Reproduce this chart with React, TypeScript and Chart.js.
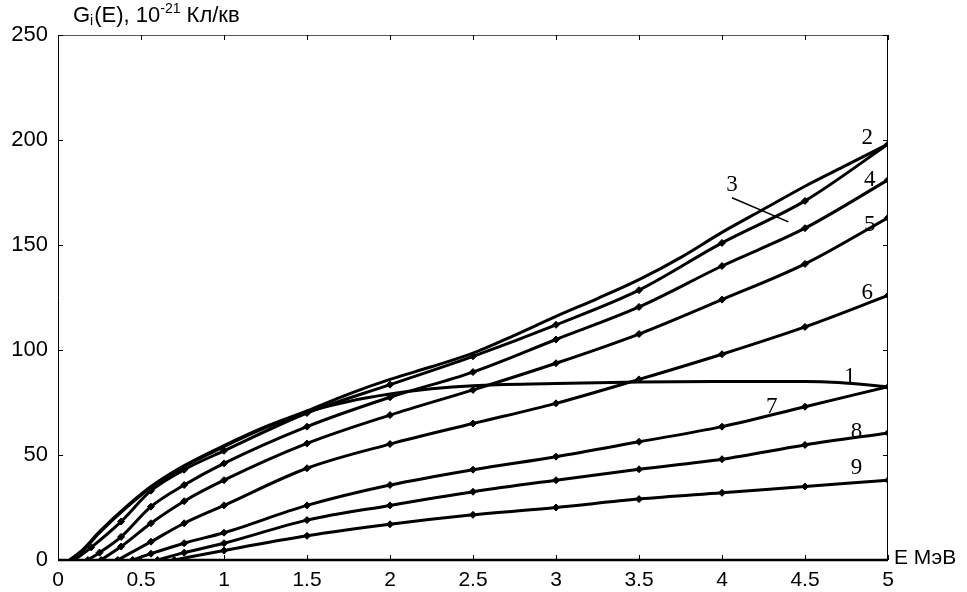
import React, { useEffect, useRef } from 'react';
import { Chart, registerables } from 'chart.js';

Chart.register(...registerables);

// ---- data (E in MeV, G in 10^-21 Кл/кв) ----
const E1 = [0.07, 0.15, 0.25, 0.42, 0.56, 0.75, 1, 1.25, 1.5, 1.75, 2, 2.25, 2.5, 3, 3.5, 4, 4.5, 4.7, 5];
const G1 = [0, 4.5, 13, 25.5, 34.5, 44, 54, 63, 70.5, 75.5, 79, 81.5, 83, 84, 84.8, 85, 85, 84.5, 82.5];

const E2 = [0.07, 0.15, 0.25, 0.42, 0.56, 0.75, 1, 1.25, 1.5, 1.75, 2, 2.25, 2.5, 2.75, 3, 3.25, 3.5, 3.75, 4, 4.25, 4.5, 4.75, 5];
const G2 = [0, 5, 13.5, 26, 35, 44.5, 54.5, 63.5, 71, 79, 86, 92, 98.5, 107, 116, 124.5, 133.5, 144, 156, 167, 178, 188, 198];

const E3 = [0.1, 0.2, 0.38, 0.56, 0.76, 1, 1.5, 2, 2.5, 3, 3.5, 4, 4.5, 5];
const G3 = [0, 6, 18.3, 33, 43, 52, 70, 83.5, 97, 112, 128.5, 151, 171, 198];

const E4 = [0.18, 0.25, 0.38, 0.56, 0.76, 1, 1.5, 2, 2.5, 3, 3.5, 4, 4.5, 5];
const G4 = [0, 3.5, 11, 25.4, 35.7, 46, 63.5, 77.5, 89.5, 105, 120.5, 140, 158, 181];

const E5 = [0.26, 0.38, 0.56, 0.76, 1, 1.5, 2, 2.5, 3, 3.5, 4, 4.5, 5];
const G5 = [0, 6.4, 17.5, 28, 38, 55.5, 69, 81, 93.7, 107.6, 124, 141, 163];

const E6 = [0.36, 0.56, 0.76, 1, 1.5, 2, 2.5, 3, 3.5, 4, 4.5, 5];
const G6 = [0, 8.7, 17.5, 26, 43.7, 55.2, 65, 74.6, 86, 98, 111, 126];

const E7 = [0.45, 0.56, 0.76, 1, 1.5, 2, 2.5, 3, 3.5, 4, 4.5, 5];
const G7 = [0, 3, 8, 13, 26, 35.7, 43, 49.2, 56.3, 63.5, 73, 82.5];

const E8 = [0.6, 0.76, 1, 1.5, 2, 2.5, 3, 3.5, 4, 4.5, 5];
const G8 = [0, 3.5, 8, 19, 26, 32.5, 38, 43.2, 48, 54.8, 60.5];

const E9 = [0.7, 1, 1.5, 2, 2.5, 3, 3.5, 4, 4.5, 5];
const G9 = [0, 4.5, 11.5, 17, 21.5, 25, 29, 32, 35, 38];

const CURVES = [
  { name: '1', e: E1, g: G1, markers: false },
  { name: '2', e: E2, g: G2, markers: false },
  { name: '3', e: E3, g: G3, markers: true },
  { name: '4', e: E4, g: G4, markers: true },
  { name: '5', e: E5, g: G5, markers: true },
  { name: '6', e: E6, g: G6, markers: true },
  { name: '7', e: E7, g: G7, markers: true },
  { name: '8', e: E8, g: G8, markers: true },
  { name: '9', e: E9, g: G9, markers: true },
];

const X_TICKS = [0, 0.5, 1, 1.5, 2, 2.5, 3, 3.5, 4, 4.5, 5];
const Y_TICKS = [0, 50, 100, 150, 200, 250];

// curve number labels placed in data coordinates
const LABEL_TEXT = ['1', '2', '3', '4', '5', '6', '7', '8', '9'];
const LABEL_E = [4.77, 4.875, 4.06, 4.89, 4.89, 4.875, 4.3, 4.81, 4.81];
const LABEL_G = [87, 201, 178.6, 181, 159.5, 127, 73, 61, 44];
const POINTER3_E = [4.06, 4.4];
const POINTER3_G = [172.5, 161];

const X_TITLE = 'E МэВ';
const Y_TITLE_PARTS = ['G', 'i', '(E), 10', '-21', ' Кл/кв'];

const SANS = "'Liberation Sans', Arial, sans-serif";
const SERIF = "'Liberation Serif', 'Times New Roman', serif";

const decorPlugin = {
  id: 'decor',
  afterDraw(chart: any) {
    const ctx = chart.ctx;
    const xs = chart.scales.x;
    const ys = chart.scales.y;
    const ca = chart.chartArea;
    ctx.save();
    // frame
    ctx.strokeStyle = '#000';
    ctx.lineWidth = 1;
    ctx.beginPath();
    ctx.moveTo(ca.left + 0.5, ca.top);
    ctx.lineTo(ca.left + 0.5, ca.bottom);
    ctx.moveTo(ca.right - 0.5, ca.top);
    ctx.lineTo(ca.right - 0.5, ca.bottom);
    ctx.stroke();
    ctx.strokeStyle = '#555';
    ctx.beginPath();
    ctx.moveTo(ca.left, ca.top + 0.5);
    ctx.lineTo(ca.right, ca.top + 0.5);
    ctx.stroke();
    ctx.strokeStyle = '#000';
    ctx.lineWidth = 2.5;
    ctx.beginPath();
    ctx.moveTo(ca.left, ca.bottom);
    ctx.lineTo(ca.right, ca.bottom);
    ctx.stroke();
    // inner ticks
    ctx.lineWidth = 1;
    ctx.beginPath();
    X_TICKS.forEach((v) => {
      const px = Math.round(xs.getPixelForValue(v)) + 0.5;
      ctx.moveTo(px, ca.bottom);
      ctx.lineTo(px, ca.bottom - 5);
      ctx.moveTo(px, ca.top);
      ctx.lineTo(px, ca.top + 5);
    });
    Y_TICKS.forEach((v) => {
      const py = Math.round(ys.getPixelForValue(v)) + 0.5;
      ctx.moveTo(ca.left, py);
      ctx.lineTo(ca.left + 5, py);
      ctx.moveTo(ca.right, py);
      ctx.lineTo(ca.right - 5, py);
    });
    ctx.stroke();

    // y title with sub/superscript
    ctx.fillStyle = '#000';
    ctx.textBaseline = 'alphabetic';
    ctx.textAlign = 'left';
    let x = ca.left + 15;
    const base = 22;
    const big = `22px ${SANS}`;
    const small = `14px ${SANS}`;
    ctx.font = big;
    ctx.fillText(Y_TITLE_PARTS[0], x, base);
    x += ctx.measureText(Y_TITLE_PARTS[0]).width;
    ctx.font = small;
    ctx.fillText(Y_TITLE_PARTS[1], x, base + 3);
    x += ctx.measureText(Y_TITLE_PARTS[1]).width + 1;
    ctx.font = big;
    ctx.fillText(Y_TITLE_PARTS[2], x, base);
    x += ctx.measureText(Y_TITLE_PARTS[2]).width;
    ctx.font = small;
    ctx.fillText(Y_TITLE_PARTS[3], x, base - 9);
    x += ctx.measureText(Y_TITLE_PARTS[3]).width;
    ctx.font = big;
    ctx.fillText(Y_TITLE_PARTS[4], x, base);

    // x title
    ctx.font = `21px ${SANS}`;
    ctx.textBaseline = 'middle';
    ctx.fillText(X_TITLE, ca.right + 6, ca.bottom - 2);

    // curve labels
    ctx.font = `23px ${SERIF}`;
    ctx.textAlign = 'center';
    ctx.textBaseline = 'middle';
    LABEL_TEXT.forEach((t, i) => {
      ctx.fillText(t, xs.getPixelForValue(LABEL_E[i]), ys.getPixelForValue(LABEL_G[i]));
    });
    // pointer for 3
    ctx.lineWidth = 1.5;
    ctx.beginPath();
    ctx.moveTo(xs.getPixelForValue(POINTER3_E[0]), ys.getPixelForValue(POINTER3_G[0]));
    ctx.lineTo(xs.getPixelForValue(POINTER3_E[1]), ys.getPixelForValue(POINTER3_G[1]));
    ctx.stroke();
    ctx.restore();
  },
};

export default function App() {
  const ref = useRef<HTMLCanvasElement>(null);
  useEffect(() => {
    if (!ref.current) return;
    const datasets = CURVES.map((c) => ({
      label: c.name,
      data: c.e.map((e, i) => ({ x: e, y: c.g[i] })),
      borderColor: '#000',
      backgroundColor: '#000',
      borderWidth: 3,
      cubicInterpolationMode: 'monotone' as const,
      pointStyle: 'rectRot' as const,
      pointRadius: c.e.map(() => (c.markers ? 3.5 : 0)),
      pointBorderWidth: 1,
      pointBorderColor: '#000',
      pointBackgroundColor: '#000',
    }));
    const chart = new Chart(ref.current, {
      type: 'line',
      data: { datasets },
      options: {
        animation: false,
        responsive: false,
        layout: { padding: { top: 35, right: 79, left: 0, bottom: 0 } },
        plugins: { legend: { display: false }, tooltip: { enabled: false } },
        scales: {
          x: {
            type: 'linear',
            min: 0,
            max: 5,
            afterFit: (s: any) => { s.height = 32; },
            afterBuildTicks: (s: any) => { s.ticks = X_TICKS.map((v) => ({ value: v })); },
            ticks: {
              color: '#000',
              font: { family: SANS, size: 21 },
              padding: 8,
              maxRotation: 0,
              autoSkip: false,
              callback: (v: any) => String(v),
            },
            grid: { display: false, drawTicks: false },
            border: { display: false },
          },
          y: {
            type: 'linear',
            min: 0,
            max: 250,
            afterFit: (s: any) => { s.width = 58; },
            afterBuildTicks: (s: any) => { s.ticks = Y_TICKS.map((v) => ({ value: v })); },
            ticks: {
              color: '#000',
              font: { family: SANS, size: 22 },
              padding: 10,
              autoSkip: false,
            },
            grid: { display: false, drawTicks: false },
            border: { display: false },
          },
        },
      },
      plugins: [decorPlugin],
    });
    return () => chart.destroy();
  }, []);
  return (
    <div style={{ position: 'absolute', left: 0, top: 0, width: 967, height: 592, background: '#fff' }}>
      <canvas ref={ref} width={967} height={592} style={{ display: 'block' }} />
    </div>
  );
}
